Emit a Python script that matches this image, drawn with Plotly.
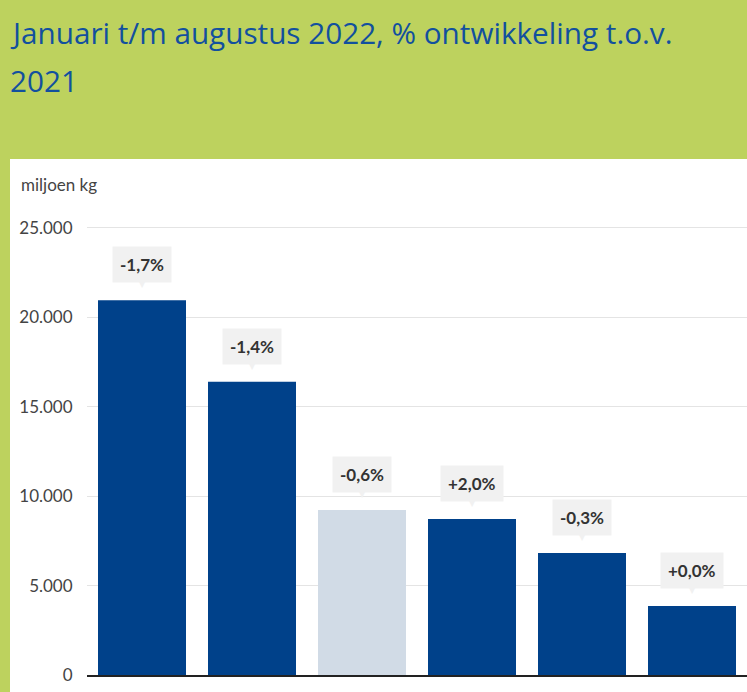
import plotly.graph_objects as go

# data
landen = ["Duitsland", "Frankrijk", "Nederland", "Polen", "Ierland", "Denemarken"]
productie = [20950, 16390, 9230, 8720, 6820, 3860]
ontwikkeling = ["-1,7%", "-1,4%", "-0,6%", "+2,0%", "-0,3%", "+0,0%"]
kleuren = ["#00418a", "#00418a", "#d1dbe6", "#00418a", "#00418a", "#00418a"]

W, H = 747, 692
L, R, T, B = 87, 0, 210, 17
pw, ph = W - L - R, H - T - B


def px(x):
    return (x - L) / pw


def py(y):
    return (H - B - y) / ph


fig = go.Figure()
fig.add_trace(go.Bar(
    x=landen, y=productie,
    marker_color=kleuren, marker_line_width=0,
    hoverinfo="x+y", showlegend=False,
))

annotations = []
for land, waarde, tekst in zip(landen, productie, ontwikkeling):
    annotations.append(dict(
        x=land, y=waarde, text="<b>" + tekst + "</b>", showarrow=False,
        yanchor="bottom", yshift=17, bgcolor="#f1f1f1", borderpad=7,
        font=dict(family="Lato", size=17, color="#333333"),
    ))
    annotations.append(dict(
        x=land, y=waarde, text="▼", showarrow=False,
        yanchor="bottom", yshift=9,
        font=dict(family="DejaVu Sans", size=8, color="#f1f1f1"),
    ))

annotations += [
    dict(xref="paper", yref="paper", x=px(8), y=py(32), xanchor="left", yanchor="middle",
         text="Januari t/m augustus 2022, % ontwikkeling t.o.v.", showarrow=False,
         font=dict(family="Open Sans", size=29.7, color="#12509e")),
    dict(xref="paper", yref="paper", x=px(8), y=py(80), xanchor="left", yanchor="middle",
         text="2021", showarrow=False,
         font=dict(family="Open Sans", size=29.7, color="#12509e")),
    dict(xref="paper", yref="paper", x=px(19), y=py(184), xanchor="left", yanchor="middle",
         text="miljoen kg", showarrow=False,
         font=dict(family="Lato", size=17, color="#444444")),
]

fig.update_layout(
    width=W, height=H,
    margin=dict(l=L, r=R, t=T, b=B, pad=0, autoexpand=False),
    paper_bgcolor="#bdd25e", plot_bgcolor="white",
    bargap=0.2,
    annotations=annotations,
    shapes=[dict(type="rect", xref="paper", yref="paper", layer="below",
                 x0=px(10), x1=1.02, y0=-0.2, y1=py(159),
                 fillcolor="white", line_width=0)],
    xaxis=dict(showline=True, linecolor="#222222", linewidth=1.5, automargin=False,
               ticks="outside", ticklen=12, tickcolor="rgba(0,0,0,0)",
               tickfont=dict(family="Lato", size=17, color="#444444")),
    yaxis=dict(range=[0, 26000], tickvals=[0, 5000, 10000, 15000, 20000, 25000],
               ticktext=["0", "5.000", "10.000", "15.000", "20.000", "25.000"],
               showgrid=True, gridcolor="#e4e4e4", gridwidth=1, zeroline=False,
               automargin=False,
               ticks="outside", ticklen=10, tickcolor="rgba(0,0,0,0)",
               tickfont=dict(family="Lato", size=17, color="#444444")),
)

fig.write_html("out.html", config={"displayModeBar": False},
               post_script="document.body.style.margin='0px';")
